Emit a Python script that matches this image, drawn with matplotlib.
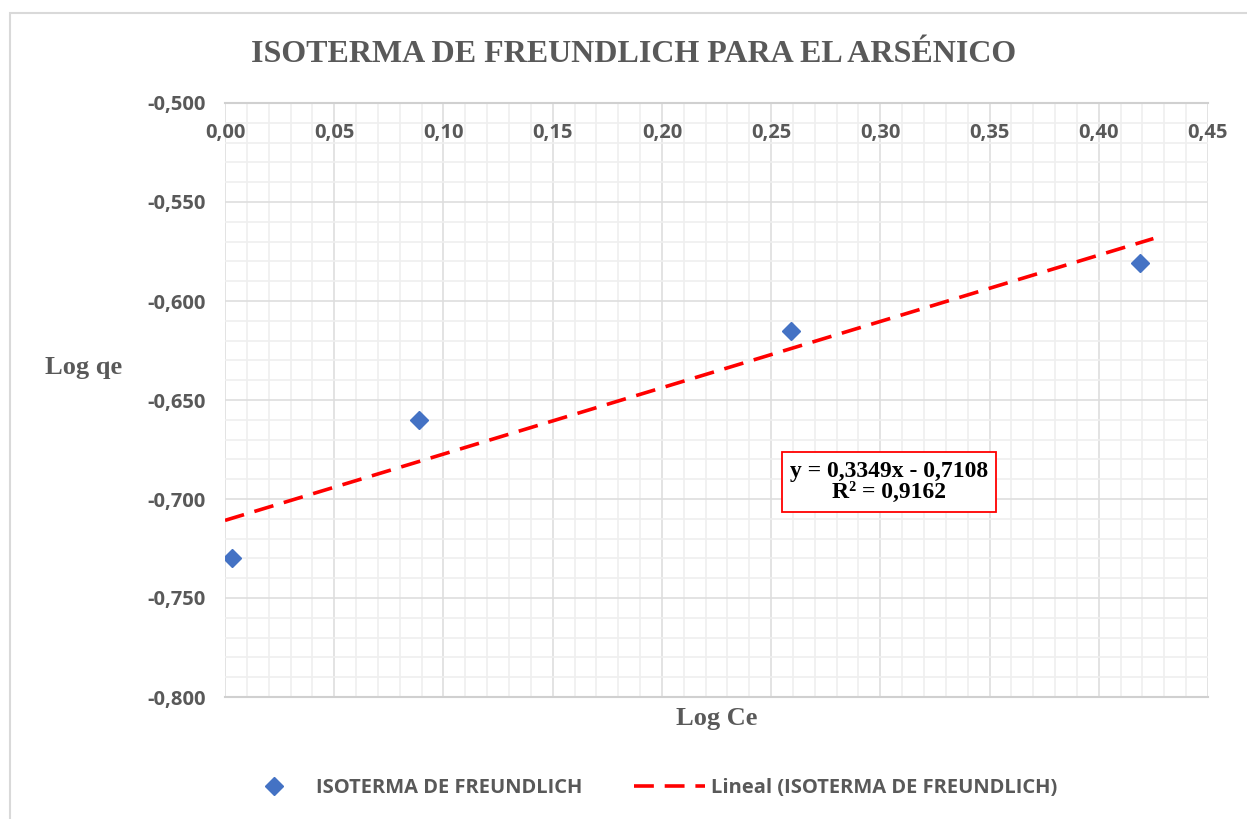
import matplotlib
matplotlib.use("Agg")
import matplotlib.pyplot as plt
import numpy as np
from matplotlib.patches import Rectangle
from matplotlib.ticker import FuncFormatter, MultipleLocator

# data
log_ce = [0.003, 0.089, 0.259, 0.419]
log_qe = [-0.730, -0.660, -0.615, -0.581]
trend_slope = 0.3349
trend_intercept = -0.7108
trend_r2 = 0.9162
trend_x = [0.0, 0.425]

GRAY = "#595959"
SERIF = "Liberation Serif"
SANS = "Open Sans"

fig = plt.figure(figsize=(12.47, 8.19), dpi=100)
ax = fig.add_axes([225 / 1247, 1 - 697 / 819, 983 / 1247, 594 / 819])

# outer chart frame (only top/left edges visible in the reference)
fig.patches.append(Rectangle((10 / 1247, -0.1), 1.2, 1 - 13 / 819 + 0.1,
                             transform=fig.transFigure, fill=False,
                             edgecolor="#d9d9d9", linewidth=1.5))

ax.set_xlim(0, 0.45)
ax.set_ylim(-0.8, -0.5)
ax.xaxis.set_major_locator(MultipleLocator(0.05))
ax.xaxis.set_minor_locator(MultipleLocator(0.01))
ax.yaxis.set_major_locator(MultipleLocator(0.05))
ax.yaxis.set_minor_locator(MultipleLocator(0.01))
ax.grid(which="major", color="#dedede", linewidth=1.2)
ax.grid(which="minor", color="#efefef", linewidth=1.2)
ax.set_axisbelow(True)

ax.xaxis.set_major_formatter(FuncFormatter(lambda v, p: f"{v:.2f}".replace(".", ",")))
ax.yaxis.set_major_formatter(FuncFormatter(lambda v, p: f"{v:.3f}".replace(".", ",")))
ax.xaxis.tick_top()
ax.tick_params(axis="x", which="both", length=0, pad=-29, labelsize=14.5,
               labelcolor=GRAY)
ax.tick_params(axis="y", which="both", length=0, pad=14, labelsize=14.5,
               labelcolor=GRAY)
for lab in ax.get_xticklabels() + ax.get_yticklabels():
    lab.set_fontfamily(SANS)
    lab.set_fontweight("bold")

for side in ["left", "right"]:
    ax.spines[side].set_visible(False)
for side in ["top", "bottom"]:
    ax.spines[side].set_color("#d0d0d0")
    ax.spines[side].set_linewidth(1.5)

# trendline
tx = np.array(trend_x)
ax.plot(tx, trend_slope * tx + trend_intercept, color="#ff0000", linewidth=2.6,
        linestyle=(0, (5.5, 3)), label="Lineal (ISOTERMA DE FREUNDLICH)", zorder=3)

# points
ax.plot(log_ce, log_qe, linestyle="none", marker="D", markersize=9,
        color="#4472c4", label="ISOTERMA DE FREUNDLICH", zorder=4)

eq = (f"y = {trend_slope:.4f}x - {abs(trend_intercept):.4f}\n"
      f"R² = {trend_r2:.4f}").replace(".", ",")
ax.text(0.6755, 0.362, eq, transform=ax.transAxes, ha="center", va="center",
        fontsize=17, fontweight="bold", family=SERIF, color="black",
        linespacing=1.05,
        bbox=dict(boxstyle="square,pad=0.35", facecolor="white",
                  edgecolor="#ff0000", linewidth=1.3), zorder=5)

fig.text(634 / 1247, 1 - 54 / 819, "ISOTERMA DE FREUNDLICH PARA EL ARSÉNICO",
         ha="center", va="center", fontsize=23, fontweight="bold",
         family=SERIF, color=GRAY)
fig.text(84 / 1247, 1 - 368 / 819, "Log qe", ha="center", va="center",
         fontsize=19, fontweight="bold", family=SERIF, color=GRAY)
fig.text(717 / 1247, 1 - 718 / 819, "Log Ce", ha="center", va="center",
         fontsize=19, fontweight="bold", family=SERIF, color=GRAY)

handles, labels = ax.get_legend_handles_labels()
leg = fig.legend(handles[::-1], labels[::-1], loc="center",
                 bbox_to_anchor=(648 / 1247, 1 - 788 / 819), ncol=2,
                 frameon=False, handlelength=3.5, columnspacing=2.6,
                 handletextpad=0.3,
                 prop={"family": SANS, "weight": "bold", "size": 14.5})
for t in leg.get_texts():
    t.set_color(GRAY)

fig.savefig("out.png", dpi=100)
